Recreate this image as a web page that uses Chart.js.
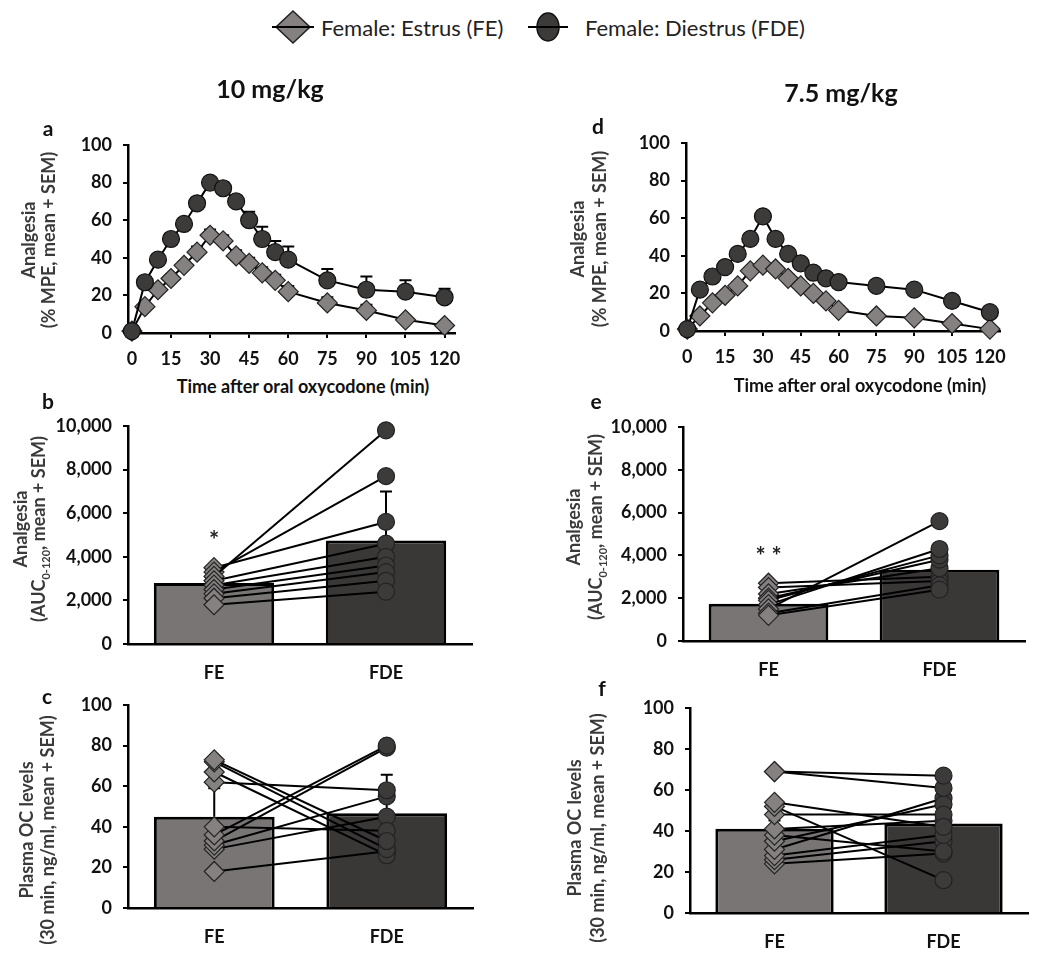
<!DOCTYPE html>
<html lang="en">
<head>
<meta charset="UTF-8">
<title>Oxycodone analgesia by estrous phase</title>
<style>
    body { margin: 0; background: #fff; font-family: Lato, "Open Sans", sans-serif; }
    #wrap { position: relative; width: 1050px; height: 963px; overflow: hidden; }
    canvas { position: absolute; }
    .t { position: absolute; transform: translate(-50%, -50%); white-space: nowrap; color: #111; }
    .vt { position: absolute; transform: translate(-50%, -50%) rotate(-90deg); white-space: nowrap;
          text-align: center; font-weight: bold; font-size: 18px; color: #3a3a3a; }
    .vt sub { font-size: 11px; line-height: 0; }
    .letter { font-weight: bold; font-size: 21px; }
    .xt { font-weight: bold; font-size: 18px; }
    .head { font-weight: bold; font-size: 25px; }
    .leg { position: absolute; font-size: 22px; color: #222; white-space: nowrap; transform: translateY(-50%); }
</style>
</head>
<body>
<div id="wrap">
    <canvas id="pa"></canvas>
    <canvas id="pd"></canvas>
    <canvas id="pb"></canvas>
    <canvas id="pe"></canvas>
    <canvas id="pc"></canvas>
    <canvas id="pf"></canvas>

    <!-- legend -->
    <svg style="position:absolute;left:270px;top:10px" width="46" height="34">
        <polygon points="23,1 40,17 23,33 6,17" fill="#868181" stroke="#222" stroke-width="1.5"/>
        <line x1="2" y1="17" x2="44" y2="17" stroke="#000" stroke-width="2"/>
    </svg>
    <div class="leg" style="left:321px;top:27px">Female: Estrus (FE)</div>
    <svg style="position:absolute;left:527px;top:11px" width="42" height="32">
        <ellipse cx="21" cy="16" rx="11" ry="14" fill="#3d3a3a" stroke="#111" stroke-width="1.5"/>
        <line x1="1" y1="16" x2="41" y2="16" stroke="#000" stroke-width="2"/>
    </svg>
    <div class="leg" style="left:585px;top:27px">Female: Diestrus (FDE)</div>

    <div class="t head" style="left:270px;top:88px">10 mg/kg</div>
    <div class="t head" style="left:841px;top:92px">7.5 mg/kg</div>

    <div class="t letter" style="left:48px;top:127px">a</div>
    <div class="t letter" style="left:48px;top:400px">b</div>
    <div class="t letter" style="left:47px;top:695px">c</div>
    <div class="t letter" style="left:598px;top:125px">d</div>
    <div class="t letter" style="left:596px;top:400px">e</div>
    <div class="t letter" style="left:602px;top:687px">f</div>

    <div class="vt" style="left:38px;top:240px;line-height:20px">Analgesia<br>(% MPE, mean + SEM)</div>
    <div class="vt" style="left:588px;top:239px;line-height:22px">Analgesia<br>(% MPE, mean + SEM)</div>
    <div class="vt" style="left:29px;top:529px;line-height:18px">Analgesia<br>(AUC<sub>0-120</sub>, mean + SEM)</div>
    <div class="vt" style="left:584px;top:527px;line-height:22px">Analgesia<br>(AUC<sub>0-120</sub>, mean + SEM)</div>
    <div class="vt" style="left:37px;top:830px;line-height:21px">Plasma OC levels<br>(30 min, ng/ml, mean + SEM)</div>
    <div class="vt" style="left:586px;top:828px;line-height:23px">Plasma OC levels<br>(30 min, ng/ml, mean + SEM)</div>

    <div class="t xt" style="left:303px;top:386px">Time after oral oxycodone (min)</div>
    <div class="t xt" style="left:860px;top:385px">Time after oral oxycodone (min)</div>
</div>

<script src="https://cdn.jsdelivr.net/npm/chart.js"></script>
<script>
// time course (% MPE)
const minutes = [0, 5, 10, 15, 20, 25, 30, 35, 40, 45, 50, 55, 60, 75, 90, 105, 120];
const timeTicks = [0, 15, 30, 45, 60, 75, 90, 105, 120];

const feMpe10  = [1, 14, 23, 29, 36, 43, 52, 49, 41, 37, 32, 28, 22, 16, 12, 7, 4];
const feErr10  = [1, 2, 2, 2, 2, 3, 3, 3, 3, 3, 3, 3, 3, 3, 3, 2, 2];
const fdeMpe10 = [1, 27, 39, 50, 58, 69, 80, 77, 70, 60, 50, 43, 39, 28, 23, 22, 19];
const fdeErr10 = [1, 2, 3, 3, 3, 2, 2, 3, 3, 4.5, 6.5, 6, 7, 6, 7, 6, 4.5];

const feMpe75  = [1, 8, 15, 19, 24, 32, 35, 33, 28, 24, 20, 16, 11, 8, 7, 4, 1];
const feErr75  = [1, 2, 2, 2, 2, 2, 2, 2, 2, 2, 2, 2, 2, 2, 2, 2, 1];
const fdeMpe75 = [1, 22, 29, 34, 41, 49, 61, 49, 41, 36, 31, 28, 26, 24, 22, 16, 10];
const fdeErr75 = [1, 2, 2, 2, 2, 2, 2, 2, 2, 2, 2, 2, 2, 2, 2, 2, 2];

// AUC 0-120
const groups = ['FE', 'FDE'];
const aucMean10 = [2800, 4750];
const aucErr10  = [350, 2250];
const aucFe10   = [1800, 2100, 2300, 2500, 2700, 2900, 3100, 3300, 3500];
const aucFde10  = [2400, 2900, 3300, 3600, 4000, 4600, 9800, 7700, 5600];

const aucMean75 = [1740, 3330];
const aucErr75  = [200, 300];
const aucFe75   = [1200, 1300, 1500, 1700, 1900, 2000, 2200, 2500, 2700];
const aucFde75  = [2400, 2600, 5600, 4300, 4000, 3800, 3400, 2800, 3000];

// plasma oxycodone at 30 min
const ocMean10 = [45, 46.7];
const ocErr10  = [14, 19];
const ocFe10   = [73, 72, 67, 62, 40, 36, 33, 31, 29, 18];
const ocFde10  = [33, 29, 26, 58, 38, 80, 79, 55, 45, 28];

const ocMean75 = [41.1, 43.6];
const ocErr75  = [4, 4];
const ocFe75   = [69, 69, 54, 52, 48, 41, 38, 35, 31, 28, 26, 24];
const ocFde75  = [67, 61, 42, 16, 48, 45, 30, 53, 56, 38, 35, 29];

const feMark = '#868181', fdeMark = '#3d3a3a';
const feBar = '#7a7575', fdeBar = '#3a3737';

Chart.defaults.font.family = 'Lato, "Open Sans", sans-serif';
Chart.defaults.font.size = 18;
Chart.defaults.font.weight = 'bold';
Chart.defaults.color = '#111';
Chart.defaults.animation = false;

// upper SEM whiskers, drawn under the markers
const errorBars = {
    id: 'errorBars',
    beforeDatasetDraw(chart, args) {
        const ds = chart.data.datasets[args.index];
        if (!ds.errors) return;
        const ctx = chart.ctx, ys = chart.scales.y;
        ctx.save();
        ctx.strokeStyle = '#000';
        ctx.lineWidth = 2;
        args.meta.data.forEach((el, i) => {
            const d = ds.data[i];
            const v = typeof d === 'object' ? d.y : d;
            const top = ys.getPixelForValue(v + ds.errors[i]);
            ctx.beginPath();
            ctx.moveTo(el.x, el.y);
            ctx.lineTo(el.x, top);
            ctx.moveTo(el.x - 6, top);
            ctx.lineTo(el.x + 6, top);
            ctx.stroke();
        });
        ctx.restore();
    }
};

// significance stars
const sigMarks = {
    id: 'sigMarks',
    afterDatasetsDraw(chart, args, opts) {
        if (!opts.text) return;
        const ctx = chart.ctx;
        const x = chart.scales.x.getPixelForValue(opts.index);
        const y = chart.scales.y.getPixelForValue(opts.value);
        ctx.save();
        ctx.font = 'bold 24px Lato';
        ctx.fillStyle = '#222';
        ctx.textAlign = 'center';
        ctx.textBaseline = 'alphabetic';
        ctx.fillText(opts.text, x, y + 14);
        ctx.restore();
    }
};
Chart.register(errorBars, sigMarks);

function setup(id, rect, area, yWidth) {
    const cv = document.getElementById(id);
    cv.width = rect.w;
    cv.height = rect.h;
    cv.style.left = rect.x + 'px';
    cv.style.top = rect.y + 'px';
    return {
        ctx: cv.getContext('2d'),
        padding: { left: area.l - rect.x - yWidth, top: area.t - rect.y, right: rect.x + rect.w - area.r, bottom: 0 },
        xHeight: rect.y + rect.h - area.b,
        yWidth: yWidth
    };
}

function yAxis(max, step, width, fmt) {
    return {
        min: 0, max: max,
        ticks: { stepSize: step, padding: 11, callback: fmt },
        grid: { drawOnChartArea: false, tickLength: 5, color: '#000', lineWidth: 2 },
        border: { color: '#000', width: 2.5 },
        afterFit(s) { s.width = width; s.paddingTop = 0; s.paddingBottom = 0; }
    };
}

function timeCourse(id, rect, area, xMin, fe, feErr, fde, fdeErr) {
    const p = setup(id, rect, area, 60);
    return new Chart(p.ctx, {
        type: 'line',
        data: {
            datasets: [
                {
                    label: 'Female: Estrus (FE)',
                    data: minutes.map((m, i) => ({ x: m, y: fe[i] })),
                    errors: feErr,
                    borderColor: '#000', borderWidth: 2,
                    pointStyle: 'rectRot', pointRadius: 10,
                    pointBackgroundColor: feMark, pointBorderColor: '#222', pointBorderWidth: 1.2,
                    order: 1, clip: false
                },
                {
                    label: 'Female: Diestrus (FDE)',
                    data: minutes.map((m, i) => ({ x: m, y: fde[i] })),
                    errors: fdeErr,
                    borderColor: '#000', borderWidth: 2,
                    pointStyle: 'circle', pointRadius: 8.5,
                    pointBackgroundColor: fdeMark, pointBorderColor: '#111', pointBorderWidth: 1.2,
                    order: 0, clip: false
                }
            ]
        },
        options: {
            responsive: false,
            layout: { padding: p.padding, autoPadding: false },
            plugins: { legend: { display: false }, tooltip: { enabled: false } },
            scales: {
                x: {
                    type: 'linear', min: xMin, max: 124,
                    afterBuildTicks(s) { s.ticks = timeTicks.map(v => ({ value: v })); },
                    ticks: { padding: 10, autoSkip: false, maxRotation: 0 },
                    grid: { drawOnChartArea: false, tickLength: 5, color: '#000', lineWidth: 2 },
                    border: { color: '#000', width: 2.5 },
                    afterFit(s) { s.height = p.xHeight; s.paddingLeft = 0; s.paddingRight = 0; }
                },
                y: yAxis(100, 20, p.yWidth)
            }
        }
    });
}

function pairedBars(id, rect, area, yWidth, yMax, yStep, means, errs, fe, fde, fmt, sig) {
    const p = setup(id, rect, area, yWidth);
    const datasets = [{
        type: 'bar',
        data: means,
        errors: errs,
        backgroundColor: [feBar, fdeBar],
        borderColor: '#000', borderWidth: 3,
        barPercentage: 0.7, categoryPercentage: 1,
        order: 10
    }];
    fe.forEach((v, i) => {
        datasets.push({
            type: 'line',
            data: [v, fde[i]],
            borderColor: '#000', borderWidth: 2,
            pointStyle: ['rectRot', 'circle'],
            pointRadius: [10, 8.5],
            pointBackgroundColor: [feMark, fdeMark],
            pointBorderColor: '#222', pointBorderWidth: 1.2,
            order: 1, clip: false
        });
    });
    return new Chart(p.ctx, {
        type: 'bar',
        data: { labels: groups, datasets: datasets },
        options: {
            responsive: false,
            layout: { padding: p.padding, autoPadding: false },
            plugins: { legend: { display: false }, tooltip: { enabled: false }, sigMarks: sig || {} },
            scales: {
                x: {
                    type: 'category', offset: true,
                    ticks: { padding: 13 },
                    grid: { offset: true, drawOnChartArea: false, tickLength: 5, color: 'rgba(0,0,0,0)' },
                    border: { color: '#000', width: 2.5 },
                    afterFit(s) { s.height = p.xHeight; s.paddingLeft = 0; s.paddingRight = 0; }
                },
                y: yAxis(yMax, yStep, p.yWidth, fmt)
            }
        }
    });
}

const comma = v => v.toLocaleString('en-US');

timeCourse('pa', { x: 0, y: 100, w: 520, h: 275 }, { l: 128, t: 145, r: 455, b: 333 }, -1.5,
    feMpe10, feErr10, fdeMpe10, fdeErr10);
timeCourse('pd', { x: 520, y: 100, w: 530, h: 275 }, { l: 686, t: 143, r: 1000, b: 331 }, -0.5,
    feMpe75, feErr75, fdeMpe75, fdeErr75);

pairedBars('pb', { x: 0, y: 405, w: 520, h: 280 }, { l: 128, t: 426, r: 472, b: 644 }, 75, 10000, 2000,
    aucMean10, aucErr10, aucFe10, aucFde10, comma, { text: '*', index: 0, value: 5000 });
pairedBars('pe', { x: 520, y: 405, w: 530, h: 280 }, { l: 683, t: 427, r: 1025, b: 641 }, 75, 10000, 2000,
    aucMean75, aucErr75, aucFe75, aucFde75, comma, { text: '* *', index: 0, value: 4200 });

pairedBars('pc', { x: 0, y: 690, w: 520, h: 273 }, { l: 128, t: 705, r: 473, b: 908 }, 60, 100, 20,
    ocMean10, ocErr10, ocFe10, ocFde10);
pairedBars('pf', { x: 520, y: 690, w: 530, h: 273 }, { l: 690, t: 708, r: 1028, b: 913 }, 60, 100, 20,
    ocMean75, ocErr75, ocFe75, ocFde75);
</script>
</body>
</html>
